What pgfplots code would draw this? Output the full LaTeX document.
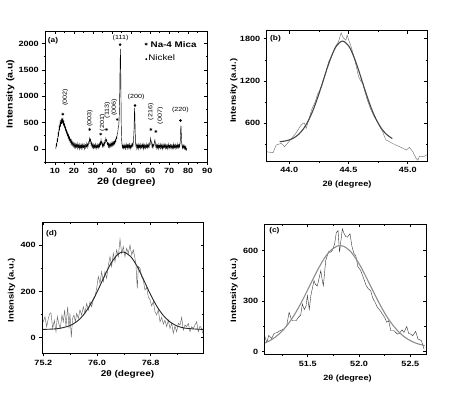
\documentclass[border=0pt]{standalone}
\usepackage{fontspec}
\setmainfont[FakeStretch=1.2]{Liberation Sans}
\usepackage{pgfplots}
\pgfplotsset{compat=1.18}

\definecolor{dgray}{RGB}{70,70,70}
\definecolor{mgray}{RGB}{105,105,105}
\definecolor{lgray}{RGB}{140,140,140}

\tikzset{
  lbl/.style={font=\bfseries\fontsize{7}{8}\selectfont},
  ylb/.style={font=\bfseries\fontsize{7.9}{9}\selectfont},
  pk/.style={font=\fontsize{6}{7}\selectfont},
}

\pgfplotsset{
  fr/.style={scale only axis, anchor=south west,
    axis line style={line width=0.7bp},
    tick style={black, line width=0.6bp},
    major tick length=3bp, minor tick length=1.7bp,
    tick label style={font=\bfseries\fontsize{7.6}{8}\selectfont},
    /pgf/number format/assume math mode=true,
    /pgf/number format/set thousands separator={},
    scaled ticks=false},
  lo/.style={fr, tick align=outside, xtick pos=left, ytick pos=left},
  hi/.style={fr, tick align=inside, xtick pos=right, ytick pos=right,
    xticklabels={}, yticklabels={}},
  % panel frames
  pa/.style={at={(45.3bp,234bp)}, width=162bp, height=131bp,
    xmin=5, xmax=90, ymin=-250, ymax=2240,
    xtick={10,20,...,90}, minor xtick={5,15,...,85},
    ytick={0,500,...,2000}, minor ytick={-250,250,750,1250,1750}},
  pb/.style={at={(266.7bp,235bp)}, width=160.6bp, height=130.3bp,
    xmin=43.81, xmax=45.165, ymin=60, ymax=1915,
    xtick={44,44.5,45}, xticklabels={44.0,44.5,45.0}, minor xtick={44.25,44.75},
    ytick={600,1200,1800}, minor ytick={300,900,1500}},
  pd/.style={at={(42.3bp,42.7bp)}, width=161.4bp, height=131bp,
    xmin=75.185, xmax=77.59, ymin=-67, ymax=498,
    xtick={75.2,76.0,76.8}, xticklabels={75.2,76.0,76.8}, minor xtick={75.6,76.4,77.2},
    ytick={0,200,400}, minor ytick={100,300}},
  pc/.style={at={(264.7bp,41.7bp)}, width=161.3bp, height=130.3bp,
    xmin=51.08, xmax=52.653, ymin=-15, ymax=758,
    xtick={51.5,52,52.5}, xticklabels={51.5,52.0,52.5}, minor xtick={51.25,51.75,52.25},
    ytick={0,300,600}, minor ytick={150,450}},
}

\begin{document}
\begin{tikzpicture}
\useasboundingbox (0,0) rectangle (463bp,396bp);

% ---------- (a) full pattern ----------
\begin{axis}[lo, pa,
  xlabel={2θ (degree)}, ylabel={Intensity (a.u)},
  xlabel style={font=\bfseries\fontsize{9.2}{10}\selectfont, at={(axis description cs:0.5,-0.155)}, anchor=center},
  ylabel style={font=\bfseries\fontsize{8.8}{10}\selectfont, at={(axis description cs:-0.215,0.52)}, anchor=center}]
\addplot[black, line width=0.45bp] coordinates {
(10.5,0)(10.75,90)(11,60)(11.25,180)(11.5,150)(11.75,300)(12,260)(12.25,420)(12.5,370)(12.75,500)
(13,440)(13.25,560)(13.5,470)(13.75,590)(14,500)(14.25,560)(14.5,460)(14.75,520)(15,420)(15.25,460)
(15.5,360)(15.75,400)(16,310)(16.25,350)(16.5,260)(16.75,300)(17,210)(17.25,260)(17.5,170)(17.75,220)
(18,140)(18.25,180)(18.5,100)(18.75,160)(19,80)(19.25,130)(19.5,60)(19.75,110)(20,40)(20.25,100)
(20.5,30)(20.75,90)(21,20)(21.25,80)(21.5,40)(21.75,100)(22,10)(22.25,70)(22.5,30)(22.75,90)
(23,0)(23.25,60)(23.5,20)(23.75,80)(24,10)(24.25,70)(24.5,20)(24.75,90)(25,30)(25.25,60)
(25.5,0)(25.75,80)(26,20)(26.25,70)(26.5,40)(26.75,100)(27,30)(27.25,90)(27.5,60)(27.75,130)
(28,110)(28.25,200)(28.5,150)(28.75,180)(29,80)(29.25,120)(29.5,40)(29.75,90)(30,20)(30.25,80)
(30.5,10)(30.75,70)(31,30)(31.25,90)(31.5,20)(31.75,60)(32,10)(32.25,80)(32.5,30)(32.75,70)
(33,20)(33.25,90)(33.5,40)(33.75,120)(34,80)(34.25,170)(34.5,100)(34.75,130)(35,40)(35.25,90)
(35.5,50)(35.75,110)(36,70)(36.25,150)(36.5,120)(36.75,200)(37,150)(37.25,170)(37.5,90)(37.75,110)
(38,40)(38.25,100)(38.5,30)(38.75,90)(39,40)(39.25,100)(39.5,50)(39.75,110)(40,60)(40.25,120)
(40.5,70)(40.75,130)(41,80)(41.25,140)(41.5,100)(41.75,170)(42,140)(42.25,220)(42.5,200)(42.75,290)
(43,300)(43.25,400)(43.5,430)(43.75,560)(44,900)(44.2,1500)(44.4,1900)(44.55,1650)(44.7,1000)(44.85,450)
(45,200)(45.25,80)(45.5,20)(45.75,70)(46,10)(46.25,60)(46.5,20)(46.75,80)(47,0)(47.25,60)
(47.5,30)(47.75,90)(48,10)(48.25,70)(48.5,20)(48.75,80)(49,30)(49.25,90)(49.5,0)(49.75,60)
(50,20)(50.25,80)(50.5,40)(50.75,100)(51,60)(51.25,150)(51.5,300)(51.7,600)(51.85,780)(52,620)
(52.15,350)(52.3,160)(52.5,60)(52.75,90)(53,10)(53.25,70)(53.5,20)(53.75,80)(54,0)(54.25,70)
(54.5,30)(54.75,90)(55,10)(55.25,60)(55.5,20)(55.75,80)(56,30)(56.25,90)(56.5,0)(56.75,70)
(57,20)(57.25,80)(57.5,10)(57.75,60)(58,30)(58.25,90)(58.5,20)(58.75,70)(59,30)(59.25,90)
(59.5,40)(59.75,110)(60,90)(60.25,200)(60.5,150)(60.75,120)(61,40)(61.25,90)(61.5,20)(61.75,80)
(62,60)(62.25,130)(62.5,170)(62.75,110)(63,40)(63.25,80)(63.5,10)(63.75,70)(64,20)(64.25,80)
(64.5,0)(64.75,60)(65,30)(65.25,90)(65.5,10)(65.75,70)(66,20)(66.25,80)(66.5,0)(66.75,60)
(67,20)(67.25,90)(67.5,30)(67.75,70)(68,10)(68.25,80)(68.5,20)(68.75,60)(69,0)(69.25,70)
(69.5,30)(69.75,90)(70,10)(70.25,60)(70.5,20)(70.75,80)(71,30)(71.25,70)(71.5,0)(71.75,60)
(72,20)(72.25,90)(72.5,10)(72.75,70)(73,30)(73.25,80)(73.5,10)(73.75,60)(74,20)(74.25,90)
(74.5,30)(74.75,70)(75,20)(75.25,80)(75.5,40)(75.75,110)(75.9,200)(76.05,380)(76.2,440)(76.35,300)
(76.5,130)(76.75,60)(77,10)(77.25,70)(77.5,20)(77.75,60)(78,0)(78.25,50)(78.5,-10)(78.75,40)
(79,-20)(79.25,10)};
% Na-4 mica reflections
\addplot[only marks, mark=asterisk, mark size=1.5bp, black, line width=0.45bp] coordinates {
(14.2,658)(28.3,368)(34.1,279)(37.1,368)(42.75,557)(60.4,368)(63.0,330)(57.9,1990)};
% nickel reflections
\addplot[only marks, mark=*, mark size=1.1bp, black] coordinates {
(44.2,1981)(52.1,823)(75.9,538)};
\addplot[only marks, mark=*, mark size=0.7bp, black] coordinates {(58.0,1705)};
\node[pk, rotate=90] at (axis cs:15.5,975) {(002)};
\node[pk, rotate=90] at (axis cs:28.3,583) {(003)};
\node[pk, rotate=90] at (axis cs:35.0,494) {(20\=1)};
\node[pk, rotate=90] at (axis cs:37.5,734) {(113)};
\node[pk, rotate=90] at (axis cs:41.2,785) {(006)};
\node[pk] at (axis cs:44.5,2106) {(111)};
\node[pk] at (axis cs:52.6,994) {(200)};
\node[pk, rotate=90] at (axis cs:60.4,703) {(216)};
\node[pk, rotate=90] at (axis cs:65.3,627) {(007)};
\node[pk] at (axis cs:75.9,747) {(220)};
\node[font=\bfseries\fontsize{8.2}{9}\selectfont, anchor=west, inner sep=0pt] at (axis cs:60.2,1975) {Na-4 Mica};
\node[font=\fontsize{8.2}{9}\selectfont, anchor=west, inner sep=0pt] at (axis cs:59.0,1735) {Nickel};
\node[lbl, anchor=west, inner sep=0pt] at (rel axis cs:0.015,0.924) {(a)};
\end{axis}
\begin{axis}[pa, hi]\end{axis}

% ---------- (b) Ni (111) ----------
\begin{axis}[lo, pb,
  xlabel={2θ (degree)}, ylabel={Intensity (a.u.)},
  xlabel style={font=\bfseries\fontsize{7.7}{9}\selectfont, at={(axis description cs:0.5,-0.177)}, anchor=center},
  ylabel style={ylb, at={(axis description cs:-0.204,0.54)}, anchor=center}]
\addplot[mgray, line width=0.4bp] coordinates {
(43.806,191)(43.835,185)(43.863,177)(43.890,287)(43.912,300)(43.933,311)(43.960,263)(43.989,320)
(44.010,360)(44.031,405)(44.052,445)(44.073,500)(44.101,572)(44.120,600)(44.130,595)(44.143,524)
(44.160,620)(44.191,800)(44.219,900)(44.239,1013)(44.256,1060)(44.275,1130)(44.304,1290)(44.332,1470)
(44.360,1560)(44.388,1680)(44.416,1760)(44.438,1885)(44.450,1830)(44.464,1800)(44.478,1780)(44.489,1853)
(44.500,1790)(44.520,1700)(44.537,1600)(44.556,1480)(44.585,1260)(44.604,1200)(44.621,1160)(44.632,1090)
(44.655,950)(44.677,840)(44.697,760)(44.717,690)(44.739,640)(44.767,540)(44.790,470)(44.804,405)
(44.818,358)(44.840,340)(44.860,320)(44.900,287)(44.944,254)(44.987,216)(45.015,254)(45.043,191)
(45.071,97)(45.085,70)(45.099,130)(45.133,120)(45.172,159)};
\addplot[dgray, line width=1.1bp, smooth] coordinates {
(43.92,334)(43.96,343)(44.00,360)(44.04,390)(44.08,440)(44.12,518)(44.16,630)(44.20,779)
(44.24,963)(44.28,1170)(44.32,1380)(44.36,1566)(44.40,1702)(44.45,1767)(44.50,1702)(44.54,1566)
(44.58,1380)(44.62,1170)(44.66,963)(44.70,779)(44.74,630)(44.78,518)(44.82,440)(44.86,390)(44.87,381)};
\node[lbl, anchor=west, inner sep=0pt] at (rel axis cs:0.02,0.942) {(b)};
\end{axis}
\begin{axis}[pb, hi]\end{axis}

% ---------- (d) Ni (220) ----------
\begin{axis}[lo, pd,
  xlabel={2θ (degree)}, ylabel={Intensity (a.u.)},
  xlabel style={font=\bfseries\fontsize{8.4}{9}\selectfont, at={(axis description cs:0.528,-0.158)}, anchor=center},
  ylabel style={ylb, at={(axis description cs:-0.19,0.483)}, anchor=center}]
\addplot[mgray, line width=0.45bp] coordinates {
(75.200,69)(75.225,91)(75.250,48)(75.275,84)(75.299,105)(75.314,108)(75.339,40)(75.364,76)
(75.389,26)(75.409,91)(75.429,62)(75.453,40)(75.478,98)(75.498,69)(75.518,120)(75.538,48)
(75.563,134)(75.583,40)(75.597,105)(75.617,2)(75.637,84)(75.657,98)(75.677,69)(75.697,105)
(75.722,84)(75.746,120)(75.771,98)(75.796,134)(75.821,105)(75.846,148)(75.871,120)(75.896,156)
(75.920,134)(75.945,163)(75.970,177)(75.995,213)(76.020,264)(76.045,235)(76.069,285)(76.094,242)
(76.119,285)(76.144,256)(76.169,314)(76.194,350)(76.218,307)(76.243,364)(76.268,328)(76.293,379)
(76.318,350)(76.343,425)(76.368,364)(76.392,393)(76.417,350)(76.442,386)(76.467,364)(76.492,400)
(76.517,357)(76.541,379)(76.566,343)(76.581,314)(76.591,256)(76.601,213)(76.616,307)(76.641,300)
(76.665,264)(76.690,249)(76.715,206)(76.740,217)(76.765,177)(76.790,163)(76.815,137)(76.839,156)
(76.864,113)(76.889,98)(76.914,120)(76.939,69)(76.964,88)(76.988,59)(77.013,76)(77.038,48)
(77.063,76)(77.088,40)(77.113,62)(77.137,19)(77.162,50)(77.187,26)(77.212,62)(77.237,55)
(77.262,88)(77.286,33)(77.311,55)(77.336,48)(77.361,62)(77.386,26)(77.411,48)(77.435,40)
(77.460,55)(77.485,69)(77.510,26)(77.535,50)(77.560,40)(77.575,19)};
\addplot[black!85, line width=0.9bp, smooth] coordinates {
(75.19,36)(75.3,37)(75.4,39)(75.5,44)(75.6,53)(75.7,70)(75.8,99)(75.9,142)(76.0,197)(76.1,259)
(76.2,317)(76.3,357)(76.39,370)(76.5,351)(76.6,307)(76.7,247)(76.8,185)(76.9,132)(77.0,92)
(77.1,66)(77.2,50)(77.3,42)(77.4,39)(77.5,37)(77.59,36)};
\node[lbl, anchor=west, inner sep=0pt] at (rel axis cs:0.023,0.916) {(d)};
\end{axis}
\begin{axis}[pd, hi]\end{axis}

% ---------- (c) Ni (200) ----------
\begin{axis}[lo, pc,
  xlabel={2θ (degree)}, ylabel={Intensity (a.u.)},
  xlabel style={font=\bfseries\fontsize{7.6}{9}\selectfont, at={(axis description cs:0.513,-0.19)}, anchor=center},
  ylabel style={ylb, at={(axis description cs:-0.19,0.493)}, anchor=center}]
\addplot[black!80, line width=0.4bp] coordinates {
(51.074,105)(51.100,56)(51.120,97)(51.148,79)(51.171,109)(51.197,113)(51.229,125)(51.269,135)
(51.294,153)(51.318,234)(51.336,200)(51.350,184)(51.385,184)(51.408,204)(51.431,218)(51.447,283)
(51.466,250)(51.483,271)(51.496,333)(51.515,252)(51.531,337)(51.561,422)(51.573,402)(51.593,390)
(51.627,481)(51.640,430)(51.652,392)(51.675,541)(51.703,594)(51.724,591)(51.742,604)(51.762,640)
(51.778,707)(51.795,719)(51.810,591)(51.837,729)(51.853,703)(51.872,683)(51.886,680)(51.912,700)
(51.931,624)(51.950,584)(51.968,570)(51.989,505)(52.017,481)(52.048,430)(52.067,396)(52.087,376)
(52.114,362)(52.133,320)(52.159,290)(52.179,264)(52.211,240)(52.227,224)(52.250,204)(52.270,175)
(52.289,184)(52.310,125)(52.341,125)(52.373,105)(52.393,109)(52.419,130)(52.438,115)(52.465,150)
(52.484,109)(52.503,105)(52.523,95)(52.552,121)(52.575,76)(52.608,66)(52.634,16)};
\addplot[lgray, line width=1.1bp, smooth] coordinates {
(51.07,50)(51.13,66)(51.19,90)(51.25,123)(51.31,166)(51.37,220)(51.43,284)(51.49,356)
(51.55,430)(51.61,501)(51.67,562)(51.73,605)(51.79,628)(51.815,630)(51.85,626)(51.91,600)
(51.97,552)(52.03,490)(52.09,418)(52.15,344)(52.21,273)(52.27,210)(52.33,158)(52.39,116)
(52.45,85)(52.51,63)(52.57,48)(52.64,37)};
\node[lbl, anchor=west, inner sep=0pt] at (rel axis cs:0.027,0.946) {(c)};
\end{axis}
\begin{axis}[pc, hi]\end{axis}
\end{tikzpicture}
\end{document}
